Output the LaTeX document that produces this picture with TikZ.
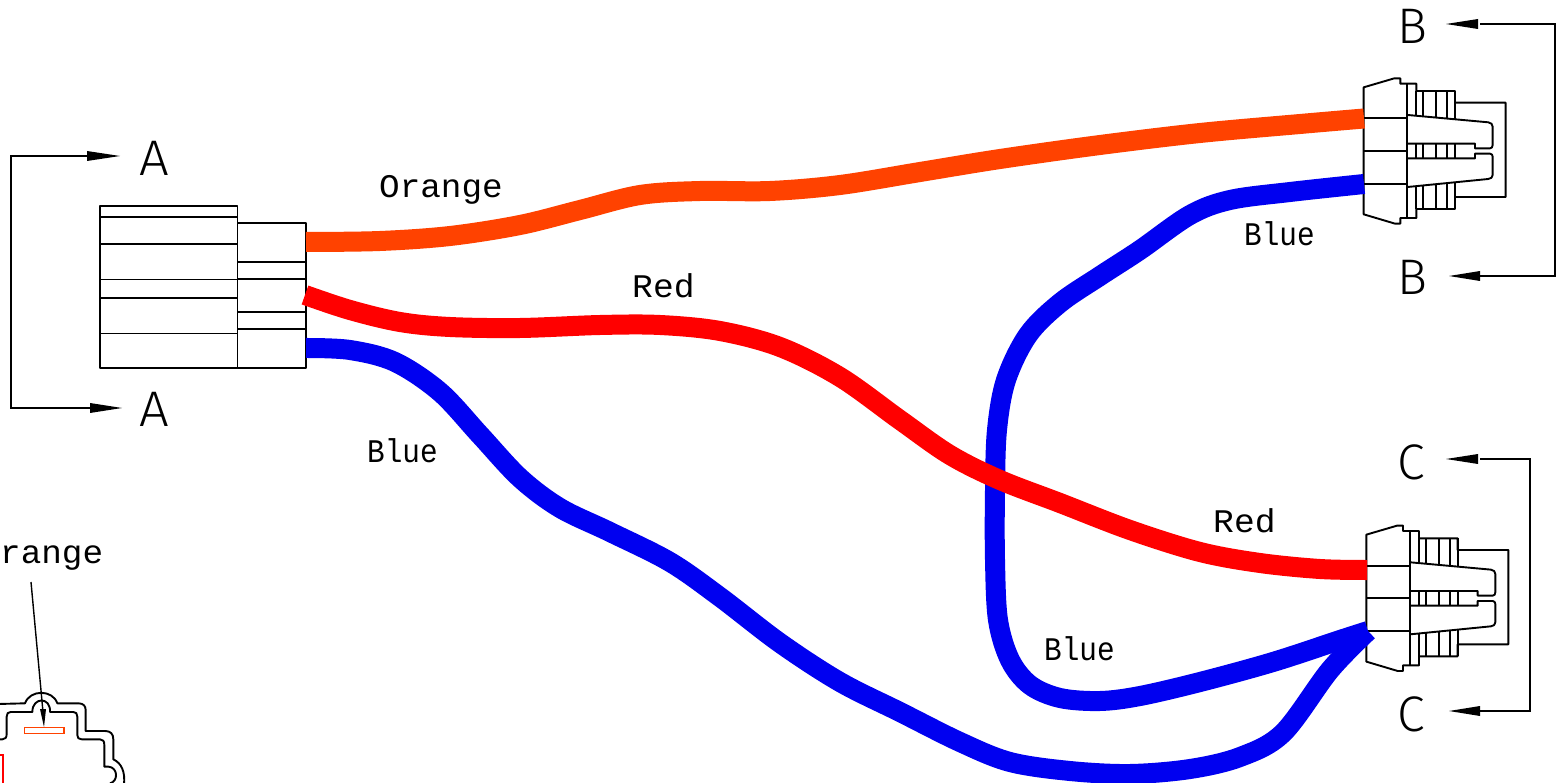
\documentclass[tikz,border=0pt]{standalone}
\usepackage{fontspec}
\setmainfont{Liberation Mono}
\newfontfamily\thinfont{Fira Sans Light}
\definecolor{wireorange}{HTML}{FF4200}
\definecolor{wirered}{HTML}{FF0000}
\definecolor{wireblue}{HTML}{0000F0}
\tikzset{
  outline/.style={draw=black,line width=1.9pt,line join=round},
  wirebase/.style={line width=20pt,line cap=butt,line join=round},
  wireO/.style={wirebase,draw=wireorange},
  wireR/.style={wirebase,draw=wirered},
  wireB/.style={wirebase,draw=wireblue},
  sect/.style={draw=black,line width=1.6pt},
  lab/.style={anchor=base west,inner sep=0pt,font=\fontsize{33}{33}\selectfont},
  big/.style={anchor=center,inner sep=0pt,font=\thinfont\fontsize{50}{50}\selectfont},
  head/.style={fill=black,draw=none},
  plug/.pic={
    \draw[outline] (71,82)--(163,55)--(181,55)--(181,71)--(229,71)--(229,93)--(345,93)--(345,128)--(497,128)--(497,411)--(345,411)--(345,447)--(229,447)--(229,474)--(181,474)--(181,491)--(165,491)--(71,463)--cycle;
    \draw[outline] (201,71)--(201,474);
    \draw[outline] (71,175)--(201,175) (71,272)--(201,272) (71,371)--(201,371);
    \draw[outline] (229,93)--(229,168) (249,93)--(249,170) (289,93)--(289,174) (322,93)--(322,177) (345,93)--(345,180);
    \draw[outline] (229,251)--(229,295) (249,251)--(249,295) (289,251)--(289,295) (322,251)--(322,295) (345,251)--(345,295);
    \draw[outline] (229,378)--(229,447) (249,376)--(249,447) (289,373)--(289,447) (322,370)--(322,447) (345,367)--(345,447);
    \draw[outline] (203,165)--(445,187) .. controls (453,188) and (458,193) .. (458,200)--(458,255) .. controls (458,261) and (455,265) .. (450,265)--(405,265)--(405,251)--(203,251);
    \draw[outline] (203,295)--(405,295)--(405,281)--(450,281) .. controls (455,281) and (458,285) .. (458,290)--(458,345) .. controls (458,352) and (453,356) .. (445,357)--(203,381);
  },
}
\begin{document}
\begin{tikzpicture}[x=1pt,y=-1pt]
\useasboundingbox (0,0) rectangle (1556,783);
\clip (0,0) rectangle (1556,783);
\fill[white] (0,0) rectangle (1556,783);
% left connector
\draw[outline] (100,206) rectangle (237.5,368);
\draw[outline] (237.5,223) rectangle (306,368);
\draw[outline] (100,217)--(237.5,217) (100,244)--(237.5,244) (100,279.5)--(237.5,279.5) (100,298)--(237.5,298) (100,333.5)--(237.5,333.5);
\draw[outline] (237.5,262)--(306,262) (237.5,279)--(306,279) (237.5,312)--(306,312) (237.5,329)--(306,329);
% right connectors
\begin{scope}[shift={(1340,60)},x=0.3333pt,y=-0.3333pt]
\pic {plug};
\end{scope}
\begin{scope}[shift={(1342.67,507.33)},x=0.3333pt,y=-0.3333pt]
\pic {plug};
\end{scope}
% wire ends
\coordinate (oS) at (306,242);
\coordinate (oE) at (1364,118.5);
\coordinate (rS) at (305,295);
\coordinate (rE) at (1367,570);
\coordinate (bS) at (306,348);
\coordinate (bE) at (1368,631);
\coordinate (b2S) at (1364,184);
\coordinate (b2E) at (1368,631);
% wires
\draw[wireB] plot[smooth,tension=0.55] coordinates {(bS) (350,350) (395,362) (440,392) (480,435) (520,478) (560,508) (610,532) (670,562) (720,597) (780,643) (840,682) (900,712) (960,742) (1010,762) (1070,771) (1130,774) (1190,769) (1240,757) (1283,733) (1330,670) (bE)};
\draw[wireB] plot[smooth,tension=0.55] coordinates {(b2S) (1290,192) (1230,200) (1190,215) (1140,250) (1100,276) (1060,303) (1028,335) (1006,380) (997,430) (995,490) (995,560) (998,620) (1010,660) (1030,685) (1060,698) (1100,701) (1140,696) (1200,682) (1273,662) (1340,640) (b2E)};
\draw[wireR] plot[smooth,tension=0.55] coordinates {(rS) (350,310) (400,322) (450,327) (520,328) (600,325) (660,325) (720,331) (780,347) (840,377) (900,420) (950,455) (1000,480) (1060,503) (1130,530) (1200,552) (1260,563) (1320,569) (rE)};
\draw[wireO] plot[smooth,tension=0.55] coordinates {(oS) (380,241) (450,236) (520,225) (580,210) (640,195) (700,191) (770,191) (840,185) (920,172) (1000,159) (1100,145) (1200,133) (1300,124) (oE)};
% section A
\coordinate (a1) at (87,156);
\coordinate (a2) at (90,408);
\draw[sect] (a1) -- (11,156) -- (11,408) -- (a2);
\fill[head] (120,156) -- (87,151) -- (87,161) -- cycle;
\fill[head] (122,408) -- (90,403) -- (90,413) -- cycle;
\node[big,xscale=1.05] (lA1) at (154,158) {A};
\node[big,xscale=1.05] (lA2) at (154,409) {A};
% section B
\coordinate (b1) at (1480,24);
\coordinate (b2) at (1480,276);
\draw[sect] (b1) -- (1555,24) -- (1555,276) -- (b2);
\fill[head] (1446,24) -- (1478,19) -- (1478,29) -- cycle;
\fill[head] (1449,276) -- (1480,271) -- (1480,281) -- cycle;
\node[big] (lB1) at (1412,26) {B};
\node[big] (lB2) at (1412,277) {B};
% section C
\coordinate (c1) at (1480,459);
\coordinate (c2) at (1480,711);
\draw[sect] (c1) -- (1530,459) -- (1530,711) -- (c2);
\fill[head] (1446,459) -- (1478,454) -- (1478,464) -- cycle;
\fill[head] (1449,711) -- (1480,706) -- (1480,716) -- cycle;
\node[big] (lC1) at (1411,462) {C};
\node[big] (lC2) at (1411,714) {C};
% labels
\node[lab,xscale=1.04] (t1) at (379,198) {Orange};
\node[lab,xscale=1.05] (t2) at (632,298) {Red};
\node[lab,xscale=0.89] (t3) at (367,462) {Blue};
\node[lab,xscale=0.89] (t4) at (1244,246) {Blue};
\node[lab,xscale=1.05] (t5) at (1213,532) {Red};
\node[lab,xscale=0.89] (t6) at (1044,660) {Blue};
\node[lab,xscale=1.04] (t7) at (0,563) {range};
% partial section view, lower left
\coordinate (lead) at (31,582);
\coordinate (leadtip) at (44,727);
\draw[sect,line width=1.4pt] (lead) -- (43,712);
\fill[head] (leadtip) -- (40,709) -- (46,709) -- cycle;
\draw[draw=wireorange,line width=1.9pt] (24.5,727.5) rectangle (64,733.5);
\draw[draw=wirered,line width=1.9pt] (-5,755) rectangle (3,790);
\begin{scope}[shift={(0,530)},x=0.3333pt,y=-0.3333pt]
\draw[outline] (-3,522) -- (75,520) .. controls (90,478) and (158,478) .. (172,520) -- (235,520) .. controls (250,520) and (257,528) .. (257,540) -- (257,603) -- (315,603) .. controls (332,603) and (340,612) .. (340,628) -- (340,688) .. controls (365,700) and (376,725) .. (372,765);
\draw[outline] (-3,628) -- (8,628) .. controls (16,628) and (20,622) .. (20,612) -- (20,560) .. controls (20,551) and (24,546) .. (32,546) -- (97,546) .. controls (97,500) and (153,500) .. (150,546) -- (220,546) .. controls (228,546) and (232,551) .. (232,560) -- (232,615) .. controls (232,624) and (236,628) .. (245,628) -- (300,628) .. controls (309,628) and (313,634) .. (313,645) -- (313,710) -- (325,710) .. controls (355,712) and (355,755) .. (330,760);
\end{scope}
\end{tikzpicture}
\end{document}
